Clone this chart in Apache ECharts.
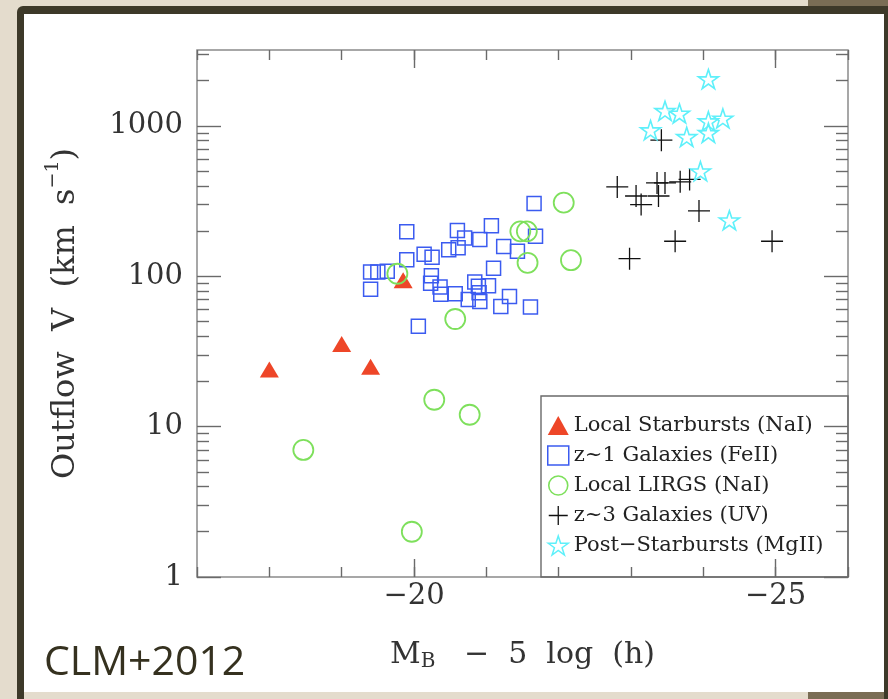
<!DOCTYPE html>
<html>
<head>
<meta charset="utf-8">
<script src="https://cdn.jsdelivr.net/npm/echarts@6/dist/echarts.min.js"></script>
<style>
  html, body { margin: 0; padding: 0; width: 888px; height: 699px; overflow: hidden; background: #e4dccd; }
  .band { position: absolute; }
  #chart { position: absolute; left: 0; top: 0; width: 888px; height: 699px; }
</style>
</head>
<body>
<!-- slide frame -->
<div class="band" style="left:808px;top:0;width:80px;height:8px;background:#7a6d55"></div>
<div class="band" style="left:17px;top:6px;width:871px;height:693px;background:#3d3929;border-top-left-radius:6px"></div>
<div class="band" style="left:24px;top:14px;width:860px;height:678px;background:#ffffff"></div>
<div class="band" style="left:24px;top:692px;width:784px;height:7px;background:#e4dccd"></div>
<div class="band" style="left:808px;top:692px;width:76px;height:7px;background:#7a6d55"></div>
<div id="chart"></div>
<script>
// Absolute magnitude (M_B - 5 log h) and outflow velocity (km/s) per sample
const starburstX = [-18.0, -19.0, -19.4, -19.85];
const starburstV = [24, 35.5, 25, 94];

const z1X = [-19.40, -19.40, -19.50, -19.63, -19.90, -19.90, -20.06, -20.14, -20.25, -20.24,
             -20.23, -20.36, -20.37, -20.48, -20.60, -20.61, -20.70, -20.57, -20.75, -20.84,
             -20.89, -20.90, -20.91, -20.91, -21.03, -21.07, -21.10, -21.20, -21.24, -21.43,
             -21.32, -21.66, -21.68, -21.61];
const z1V = [82, 107, 107, 108, 198, 129, 46.6, 140, 134, 101,
             90, 85, 76, 150, 202, 155, 180, 76.5, 70, 91.5,
             86, 77.8, 68, 176, 86.5, 217, 113, 63, 158, 147,
             73.5, 305, 185, 62.4];

const lirgX = [-18.47, -19.97, -20.28, -20.77, -20.57, -19.77, -22.07, -21.47, -21.56, -21.57, -22.17];
const lirgV = [7.0, 2.0, 15.1, 12.0, 52, 104, 309, 199, 199, 123, 128];

const z3X = [-23.42, -22.81, -23.07, -23.14, -23.38, -23.36, -23.47, -23.68, -23.81, -23.94, -23.61, -22.98, -24.95];
const z3V = [804, 393, 342, 300, 342, 418, 418, 425, 441, 272, 171, 131, 171];

const psbX = [-24.07, -23.47, -23.67, -23.27, -23.77, -24.07, -24.07, -24.27, -23.96, -24.36];
const psbV = [2050, 1260, 1210, 938, 846, 1076, 900, 1122, 500, 236];

const seriesNames = ['Local Starbursts (NaI)', 'z~1 Galaxies (FeII)', 'Local LIRGS (NaI)', 'z~3 Galaxies (UV)', 'Post\u2212Starbursts (MgII)'];

// Tick positions
const xMajor = [-25, -20];
const xMinor = [-26, -25, -24, -23, -22, -21, -20, -19, -18, -17];
const yMajor = [1, 10, 100, 1000];
const yMinor = [2, 3, 4, 5, 6, 7, 8, 9, 20, 30, 40, 50, 60, 70, 80, 90,
                200, 300, 400, 500, 600, 700, 800, 900, 2000, 3000];

const zip = (xs, ys) => xs.map((x, i) => [x, ys[i]]);

const serif = 'DejaVu Serif';
const ink = '#333';
const tickLine = { color: '#6a6a6a', width: 1.4 };
const minusFmt = v => (v < 0 ? '\u2212' : '') + Math.abs(v);

const xBase = { type: 'value', min: -26, max: -17, inverse: true, splitLine: { show: false }, axisLine: { show: false } };
const yBase = { type: 'log', logBase: 10, min: 1, max: 3200, splitLine: { show: false }, axisLine: { show: false } };

const STAR = 'path://M10,0 L12.245,6.91 L19.511,6.91 L13.633,11.18 L15.878,18.09 L10,13.82 L4.122,18.09 L6.367,11.18 L0.489,6.91 L7.755,6.91 Z';
const CROSS = 'path://M0,10 L20,10 M10,0 L10,20';

const chart = echarts.init(document.getElementById('chart'), null, { renderer: 'canvas' });

chart.setOption({
  animation: false,
  backgroundColor: 'transparent',
  grid: { left: 197, top: 50, width: 651, height: 527, show: true, borderColor: '#8a8a8a', borderWidth: 1.5 },
  xAxis: [
    Object.assign({}, xBase, {
      position: 'bottom',
      axisTick: { inside: true, length: 18, lineStyle: tickLine, customValues: xMajor },
      axisLabel: { customValues: xMajor, formatter: minusFmt, fontFamily: serif, fontSize: 29, color: ink, margin: 5 },
      name: '{b|M}{s|B}   \u2212  5  log  (h)',
      nameLocation: 'middle',
      nameGap: 62,
      nameTextStyle: {
        rich: {
          b: { fontFamily: serif, fontSize: 30, color: ink },
          s: { fontFamily: serif, fontSize: 20, color: ink, padding: [13, 0, 0, 0] }
        },
        fontFamily: serif, fontSize: 30, color: ink
      }
    }),
    Object.assign({}, xBase, {
      position: 'bottom',
      axisTick: { inside: true, length: 10, lineStyle: tickLine, customValues: xMinor },
      axisLabel: { show: false }
    }),
    Object.assign({}, xBase, {
      position: 'top',
      axisTick: { inside: true, length: 18, lineStyle: tickLine, customValues: xMajor },
      axisLabel: { show: false }
    }),
    Object.assign({}, xBase, {
      position: 'top',
      axisTick: { inside: true, length: 10, lineStyle: tickLine, customValues: xMinor },
      axisLabel: { show: false }
    })
  ],
  yAxis: [
    Object.assign({}, yBase, {
      position: 'left',
      axisTick: { inside: true, length: 24, lineStyle: tickLine, customValues: yMajor },
      axisLabel: { customValues: yMajor, formatter: v => String(v), fontFamily: serif, fontSize: 29, color: ink, margin: 14 },
      name: 'Outflow  V  (km  s{p|\u22121})',
      nameLocation: 'middle',
      nameGap: 110,
      nameTextStyle: {
        fontFamily: serif, fontSize: 32, color: ink,
        rich: {
          p: { fontFamily: serif, fontSize: 19, color: ink, padding: [0, 0, 24, 0] }
        }
      }
    }),
    Object.assign({}, yBase, {
      position: 'left',
      axisTick: { inside: true, length: 12, lineStyle: tickLine, customValues: yMinor },
      axisLabel: { show: false }
    }),
    Object.assign({}, yBase, {
      position: 'right',
      axisTick: { inside: true, length: 24, lineStyle: tickLine, customValues: yMajor },
      axisLabel: { show: false }
    }),
    Object.assign({}, yBase, {
      position: 'right',
      axisTick: { inside: true, length: 12, lineStyle: tickLine, customValues: yMinor },
      axisLabel: { show: false }
    })
  ],
  legend: {
    orient: 'vertical',
    left: 547,
    top: 415,
    padding: 0,
    itemWidth: 21,
    itemHeight: 19,
    itemGap: 9,
    selectedMode: false,
    textStyle: { fontFamily: serif, fontSize: 21, color: '#222', lineHeight: 20 },
    data: [
      { name: seriesNames[0], itemStyle: { borderWidth: 0 } },
      { name: seriesNames[1], itemStyle: { borderWidth: 1.5 } },
      { name: seriesNames[2], itemStyle: { borderWidth: 1.6 } },
      { name: seriesNames[3], itemStyle: { borderWidth: 1.3 } },
      { name: seriesNames[4], itemStyle: { borderWidth: 1.5 } }
    ]
  },
  graphic: [
    {
      type: 'rect', z: 50,
      shape: { x: 541, y: 396, width: 307, height: 181 },
      style: { fill: null, stroke: '#6a6a6a', lineWidth: 1.4 }
    },
    {
      type: 'text', left: 44, top: 643, z: 50,
      style: { text: 'CLM+2012', fontFamily: 'Open Sans', fontSize: 41, fill: '#35311f' }
    }
  ],
  series: [
    {
      name: seriesNames[0], type: 'scatter', symbol: 'triangle', symbolSize: [19, 16], symbolKeepAspect: true,
      itemStyle: { color: '#ee4628', opacity: 1 },
      data: zip(starburstX, starburstV)
    },
    {
      name: seriesNames[1], type: 'scatter', symbol: 'rect', symbolSize: 14, symbolKeepAspect: true,
      itemStyle: { color: 'rgba(0,0,0,0)', borderColor: '#3b5bf0', borderWidth: 1.5, opacity: 1 },
      data: zip(z1X, z1V)
    },
    {
      name: seriesNames[2], type: 'scatter', symbol: 'circle', symbolSize: 20, symbolKeepAspect: true,
      itemStyle: { color: 'rgba(0,0,0,0)', borderColor: '#7ee05c', borderWidth: 1.8, opacity: 1 },
      data: zip(lirgX, lirgV)
    },
    {
      name: seriesNames[3], type: 'scatter', symbol: CROSS, symbolSize: 22, symbolKeepAspect: true,
      itemStyle: { color: 'rgba(0,0,0,0)', borderColor: '#111111', borderWidth: 1.3, opacity: 1 },
      data: zip(z3X, z3V)
    },
    {
      name: seriesNames[4], type: 'scatter', symbol: STAR, symbolSize: 20, symbolKeepAspect: true,
      itemStyle: { color: 'rgba(0,0,0,0)', borderColor: '#5ef0fa', borderWidth: 1.6, opacity: 1 },
      data: zip(psbX, psbV)
    }
  ]
});
</script>
</body>
</html>
